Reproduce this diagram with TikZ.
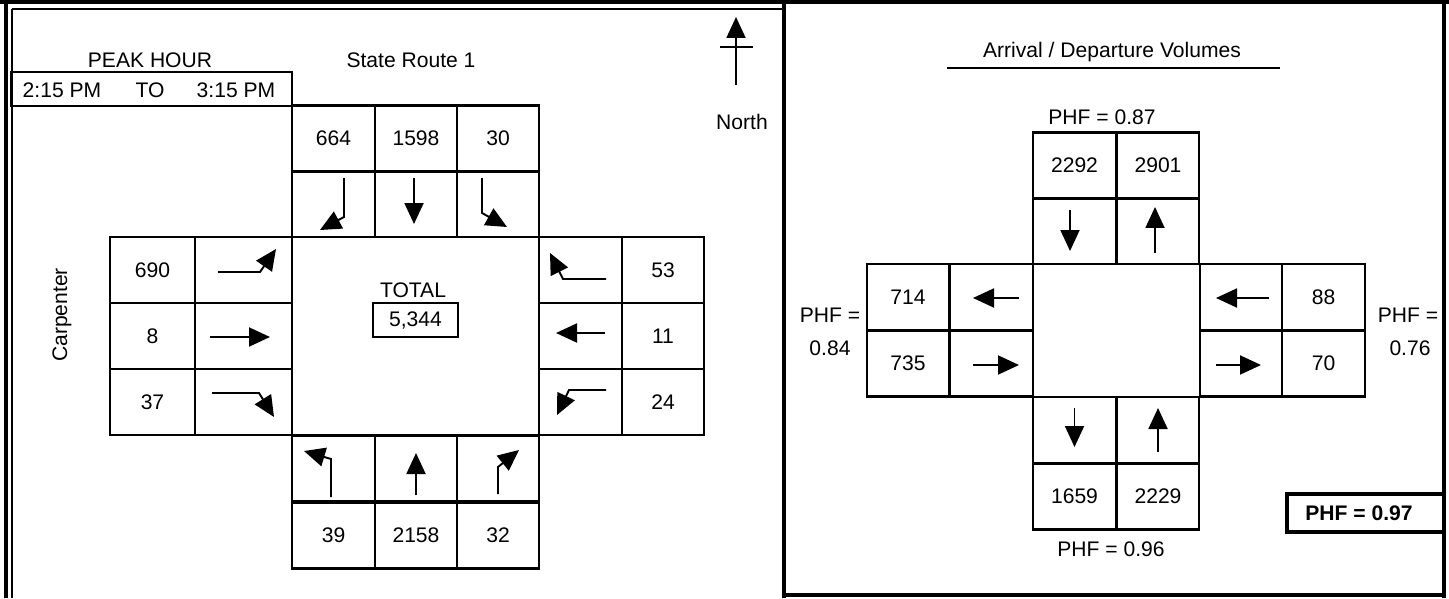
\documentclass[tikz,border=0pt]{standalone}
\usepackage{fontspec}
\setmainfont{Liberation Sans}
\usetikzlibrary{arrows.meta}

\begin{document}
\begin{tikzpicture}[
    x=0.02cm, y=-0.02cm,
    every node/.style={font=\fontsize{12pt}{14pt}\selectfont, inner sep=0pt},
    cell/.style={rectangle, draw=black, line width=1.3pt, minimum width=1.65cm, minimum height=1.32cm},
    numcell/.style={cell, minimum width=1.7cm},
    widecell/.style={cell, minimum width=1.94cm},
    hub/.style={rectangle, draw=black, line width=1.3pt},
    frame/.style={line width=1.8pt},
    turn/.style={-{Triangle[length=0.42cm, width=0.38cm]}, line width=1.1pt}
]
    \useasboundingbox (0,0) rectangle (1449,598);

    % outer frame
    \draw [frame] (0,2) -- (1449,2);
    \draw [line width=1pt] (12,9) -- (784,9);
    \draw [frame] (6,0) -- (6,598);
    \draw [line width=1pt] (12,9) -- (12,598);
    \draw [frame] (784,2) -- (784,598);
    \draw [frame] (1444,0) -- (1444,598);
    \draw [frame] (784,595) -- (1444,595);

    % headings, left panel
    \node (peak) at (150,60) {PEAK HOUR};
    \node (tbox) [draw, line width=1.3pt, minimum width=5.62cm, minimum height=0.68cm] at (151.5,89) {};
    \node (tfrom) at (62,90) {2:15 PM};
    \node (tto) at (150,90) {TO};
    \node (tend) at (236,90) {3:15 PM};
    \node (sr1) at (411,60) {State Route 1};
    \node (carp) [rotate=90] at (62,315) {Carpenter};
    \coordinate (nfoot) at (736,85);
    \coordinate (nhead) at (736,17);
    \draw [turn] (nfoot) -- (nhead);
    \draw [line width=1.3pt] (720,47) -- (753,47);
    \node (north) at (742,122) {North};

    % north approach (southbound)
    \node (sbR) [cell] at (333.5,138.5) {664};
    \node (sbT) [cell] at (416,138.5) {1598};
    \node (sbL) [cell] at (498,138.5) {30};
    \node (sbRa) [cell] at (333.5,204) {};
    \node (sbTa) [cell] at (416,204) {};
    \node (sbLa) [cell] at (498,204) {};
    \draw [turn, shift={(sbRa)}] (10.5,-26) -- (10.5,13) -- (-13.5,26);
    \draw [turn, shift={(sbTa)}] (-2,-26) -- (-2,20);
    \draw [turn, shift={(sbLa)}] (-16,-26) -- (-16,9) -- (9,23);

    % west approach (eastbound)
    \node (ebL) [numcell] at (152.5,270) {690};
    \node (ebT) [numcell] at (152.5,336) {8};
    \node (ebR) [numcell] at (152.5,402) {37};
    \node (ebLa) [widecell] at (243.5,270) {};
    \node (ebTa) [widecell] at (243.5,336) {};
    \node (ebRa) [widecell] at (243.5,402) {};
    \draw [turn, shift={(ebLa)}] (-25.5,2) -- (16.5,2) -- (32.5,-21);
    \draw [turn, shift={(ebTa)}] (-33.5,1) -- (26.5,1);
    \draw [turn, shift={(ebRa)}] (-31.5,-9) -- (15.5,-9) -- (30.5,15);

    % east approach (westbound)
    \node (wbRa) [cell] at (580.5,270) {};
    \node (wbTa) [cell] at (580.5,336) {};
    \node (wbLa) [cell] at (580.5,402) {};
    \node (wbR) [cell] at (663,270) {53};
    \node (wbT) [cell] at (663,336) {11};
    \node (wbL) [cell] at (663,402) {24};
    \draw [turn, shift={(wbRa)}] (25.5,9) -- (-17.5,9) -- (-30.5,-17);
    \draw [turn, shift={(wbTa)}] (24.5,-3) -- (-24.5,-3);
    \draw [turn, shift={(wbLa)}] (25.5,-12) -- (-11.5,-12) -- (-23.5,13);

    % south approach (northbound)
    \node (nbLa) [cell] at (333.5,468.5) {};
    \node (nbTa) [cell] at (416,468.5) {};
    \node (nbRa) [cell] at (498,468.5) {};
    \node (nbL) [cell] at (333.5,535.5) {39};
    \node (nbT) [cell] at (416,535.5) {2158};
    \node (nbR) [cell] at (498,535.5) {32};
    \draw [turn, shift={(nbLa)}] (-2.5,28.5) -- (-2.5,-9.5) -- (-29.5,-17.5);
    \draw [turn, shift={(nbTa)}] (0,26.5) -- (0,-15.5);
    \draw [turn, shift={(nbRa)}] (0,25.5) -- (0,-1.5) -- (21,-18.5);

    % intersection total
    \node (hubL) [hub, minimum width=4.94cm, minimum height=3.96cm] at (415.5,336) {};
    \node (totl) at (413,290) {TOTAL};
    \node (tot) [draw, line width=1.1pt, minimum width=1.7cm, minimum height=0.68cm] at (415.5,320) {5,344};

    % right panel: arrival / departure
    \node (adv) at (1112,52) {Arrival / Departure Volumes};
    \draw [line width=1.3pt] (947,68) -- (1280,68);

    \node (phfN) at (1102,117) {PHF = 0.87};
    \node (inN) [cell] at (1074.5,165.5) {2292};
    \node (outN) [cell] at (1158,165.5) {2901};
    \node (inNa) [cell] at (1074.5,231) {};
    \node (outNa) [cell] at (1158,231) {};
    \draw [turn, shift={(inNa)}] (-4.5,-21) -- (-4.5,20);
    \draw [turn, shift={(outNa)}] (-3,22) -- (-3,-24);

    \node (phfW) at (830,315) {PHF =};
    \node (phfWv) at (830,348) {0.84};
    \node (outW) [cell] at (908,297) {714};
    \node (inW) [cell] at (908,363.5) {735};
    \node (outWa) [cell] at (991.5,297) {};
    \node (inWa) [cell] at (991.5,363.5) {};
    \draw [turn, shift={(outWa)}] (27.5,1) -- (-18.5,1);
    \draw [turn, shift={(inWa)}] (-18.5,1.5) -- (27.5,1.5);

    \node (inEa) [cell] at (1241,297) {};
    \node (outEa) [cell] at (1241,363.5) {};
    \node (inE) [cell] at (1323.5,297) {88};
    \node (outE) [cell] at (1323.5,363.5) {70};
    \draw [turn, shift={(inEa)}] (28,1) -- (-25,1);
    \draw [turn, shift={(outEa)}] (-25,1.5) -- (20,1.5);
    \node (phfE) at (1408,315) {PHF =};
    \node (phfEv) at (1410,348) {0.76};

    \node (outSa) [cell] at (1074.5,430) {};
    \node (inSa) [cell] at (1158,430) {};
    \node (outS) [cell] at (1074.5,496.5) {1659};
    \node (inS) [cell] at (1158,496.5) {2229};
    \draw [turn, shift={(outSa)}] (0,-22) -- (0,17);
    \draw [turn, shift={(inSa)}] (0,22) -- (0,-22);
    \node (phfS) at (1111,549) {PHF = 0.96};

    \node (hubR) [hub, minimum width=3.34cm, minimum height=2.66cm] at (1116.5,330.5) {};

    \node (phfbox) [draw, line width=2.5pt, minimum width=3.14cm, minimum height=0.76cm] at (1365.5,513) {};
    \node (phfall) at (1359,513) {\bfseries PHF = 0.97};
\end{tikzpicture}
\end{document}
